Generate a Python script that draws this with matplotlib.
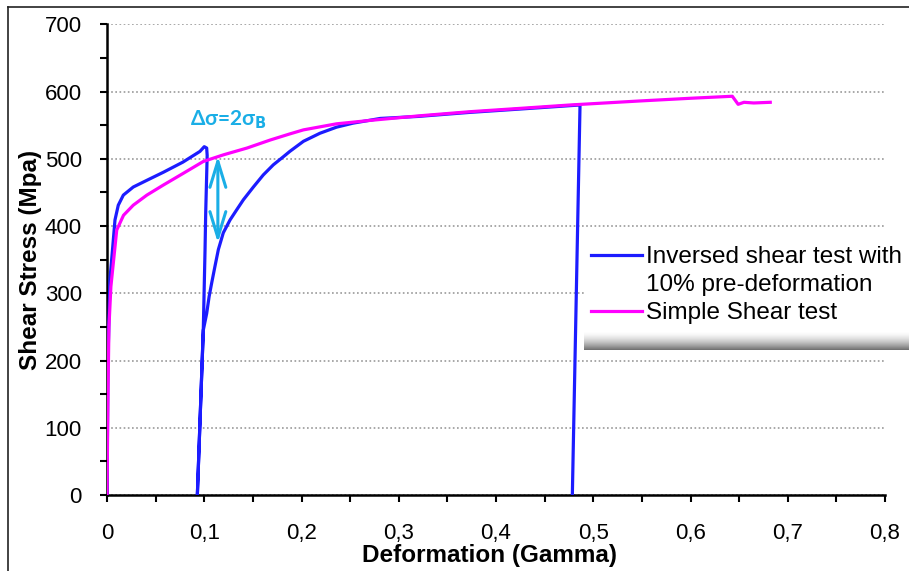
import numpy as np
import matplotlib
matplotlib.use("Agg")
import matplotlib.pyplot as plt
from matplotlib.lines import Line2D
from matplotlib.ticker import MultipleLocator, FuncFormatter

plt.rcParams['font.family'] = ['Liberation Sans', 'DejaVu Sans']

# simple shear test (magenta)
simple_gamma = [0, 0.001, 0.002, 0.004, 0.0065, 0.010, 0.017, 0.027, 0.041, 0.058, 0.078, 0.099,
                0.120, 0.144, 0.168, 0.188, 0.202, 0.236, 0.270, 0.322, 0.373, 0.425, 0.476,
                0.548, 0.600, 0.643, 0.649, 0.655, 0.665, 0.682]
simple_stress = [0, 150, 250, 310, 345, 394, 416, 431, 446, 461, 478, 496,
                 506, 516, 528, 537, 543, 552, 557, 564, 570, 575, 580,
                 586, 590, 593, 581, 584, 583, 584]

# inversed shear test with 10% pre-deformation (blue)
inv_gamma = [0, 0.001, 0.003, 0.0059, 0.0082, 0.0116, 0.0168, 0.027, 0.041, 0.058, 0.078, 0.0956,
             0.100, 0.1025, 0.1030, 0.1015, 0.1008, 0.099, 0.0929,
             0.099, 0.1025, 0.105, 0.1076, 0.111, 0.1145, 0.1196, 0.1265, 0.1333, 0.1402,
             0.1505, 0.1607, 0.171, 0.1813, 0.188, 0.202, 0.219, 0.236, 0.253, 0.281,
             0.320, 0.373, 0.425, 0.476, 0.4864, 0.4785]
inv_stress = [0, 200, 320, 369, 409, 431, 446, 458, 468, 480, 495, 511,
              518, 516, 505, 420, 364, 245, 0,
              245, 270, 295, 315, 340, 365, 390, 409, 424, 439,
              458, 476, 491, 503, 511, 526, 538, 547, 553, 560,
              563, 569, 574, 579, 580, 0]

labels = ['Inversed shear test with', '10% pre-deformation', 'Simple Shear test']
blue = '#1c1cff'
magenta = '#ff00ff'
note_color = '#1aaee6'

fig = plt.figure(figsize=(9.09, 5.71), dpi=100)
ax = fig.add_axes([107/909, 1-495/571, 778/909, 470.7/571])

l1, = ax.plot(inv_gamma, inv_stress, color=blue, lw=2.3, solid_joinstyle='round', zorder=3)
l2, = ax.plot(simple_gamma, simple_stress, color=magenta, lw=2.3, solid_joinstyle='round', zorder=4)

ax.set_xlim(0, 0.8)
ax.set_ylim(0, 700)
ax.xaxis.set_major_locator(MultipleLocator(0.1))
ax.xaxis.set_minor_locator(MultipleLocator(0.05))
ax.yaxis.set_major_locator(MultipleLocator(100))
ax.yaxis.set_minor_locator(MultipleLocator(50))
ax.xaxis.set_major_formatter(FuncFormatter(lambda v, p: '0' if abs(v) < 1e-9 else ('%.1f' % v).replace('.', ',')))
ax.yaxis.set_major_formatter(FuncFormatter(lambda v, p: '%d' % v))

ax.grid(axis='y', which='major', color='#999999', linestyle=(0, (1, 1.5)), lw=1.2)
ax.set_axisbelow(True)
for s in ['top', 'right']:
    ax.spines[s].set_visible(False)
for s in ['left', 'bottom']:
    ax.spines[s].set_linewidth(1.8)
ax.tick_params(which='both', direction='out', length=5, width=1.5, labelsize=16)
ax.tick_params(axis='y', pad=13)
ax.tick_params(axis='x', pad=15)

ax.set_xlabel('Deformation (Gamma)', fontsize=17.5, fontweight='bold')
ax.set_ylabel('Shear Stress (Mpa)', fontsize=17.5, fontweight='bold')
ax.xaxis.set_label_coords(0.492, -0.104)
ax.yaxis.set_label_coords(-0.083, 0.5)

# delta sigma annotation
ax.annotate('', xy=(0.114, 504), xytext=(0.114, 375),
            arrowprops=dict(arrowstyle='<->,head_length=0.85,head_width=0.26', color=note_color,
                            lw=2.2, shrinkA=0, shrinkB=0, mutation_scale=22))
ax.text(0.085, 558, 'Δσ=2σ$_\\mathbf{B}$', color=note_color, fontsize=15, fontweight='bold',
        family=['Lato', 'DejaVu Sans'], va='center', ha='left')

# legend box with shaded bottom
bw, bh = 325, 113
box = np.ones((bh, bw, 3))
ramp = 19
t = np.linspace(0, 1, ramp) ** 1.6
box[bh-ramp:, :, :] = (1 - 0.55 * t)[:, None, None]
fig.figimage(box, xo=584, yo=571-350, origin='upper', zorder=3)

dummy = Line2D([], [], color='none')
fig.legend([l1, dummy, l2], labels, loc='upper left', bbox_to_anchor=(584/909, 1-239/571),
           frameon=False, fontsize=17.5, handlelength=2.1, handletextpad=0.15,
           labelspacing=0.25, borderpad=0.3, borderaxespad=0)

# outer chart frame (cropped)
fig.add_artist(Line2D([8/909, 8/909], [0, 1-7/571], color='#222222', lw=1.2))
fig.add_artist(Line2D([8/909, 1], [1-7/571, 1-7/571], color='#222222', lw=1.2))

fig.savefig('out.png', dpi=100)
